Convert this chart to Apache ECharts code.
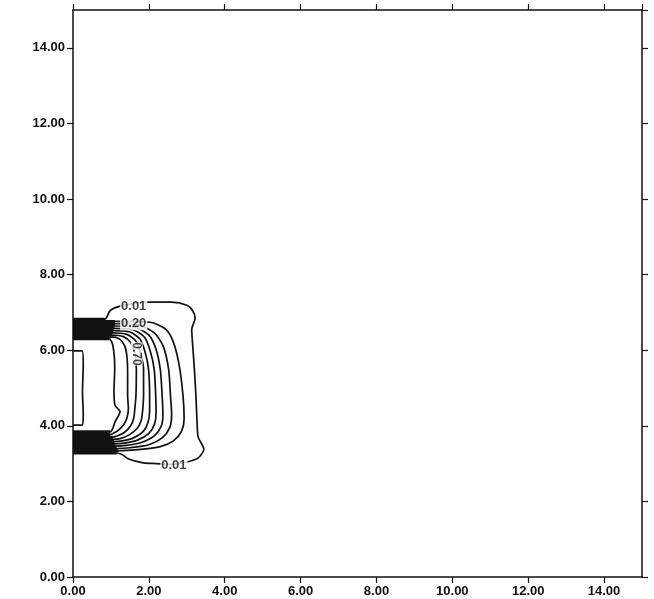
<!DOCTYPE html>
<html>
<head>
<meta charset="utf-8">
<title>Concentration contours</title>
<script src="https://cdn.jsdelivr.net/npm/echarts@6/dist/echarts.min.js"></script>
<style>
  html, body { margin: 0; padding: 0; background: #fff; }
  #chart { width: 654px; height: 599px; }
</style>
</head>
<body>
<div id="chart"></div>
<script>
// Axis ticks (both axes run 0..15, labelled every 2)
const xTicks = [0, 2, 4, 6, 8, 10, 12, 14];
const yTicks = [0, 2, 4, 6, 8, 10, 12, 14];

// Contour polylines [x, y], traced from the top edge of the inflow round to the bottom edge
const c001 = [[0,6.82],[0.84,6.82],[0.98,7.05],[1.3,7.18],[2.03,7.27],[2.6,7.27],[3.0,7.19],[3.15,7.05],[3.22,6.85],[3.13,6.55],[3.15,6.2],[3.2,5.5],[3.24,4.8],[3.27,4.1],[3.3,3.7],[3.45,3.38],[3.3,3.15],[3.03,3.05],[2.6,2.98],[2.2,3.0],[1.85,3.02],[1.45,3.13],[1.29,3.24],[1.15,3.28],[0,3.28]];
const c01 = [[0,6.76],[1.1,6.76],[2.03,6.74],[2.45,6.55],[2.65,6.2],[2.8,5.6],[2.9,4.8],[2.93,4.2],[2.86,3.85],[2.65,3.6],[2.3,3.45],[1.7,3.37],[1.2,3.34],[0,3.34]];
const c02 = [[0,6.70],[1.1,6.70],[1.75,6.66],[2.15,6.45],[2.38,6.1],[2.52,5.5],[2.57,4.8],[2.6,4.3],[2.55,3.95],[2.35,3.68],[2.0,3.5],[1.5,3.42],[1.15,3.40],[0,3.40]];
const c03 = [[0,6.64],[1.1,6.64],[1.65,6.6],[2.0,6.4],[2.18,6.05],[2.3,5.5],[2.35,4.8],[2.37,4.3],[2.33,4.0],[2.15,3.74],[1.8,3.56],[1.4,3.48],[1.12,3.46],[0,3.46]];
const c04 = [[0,6.58],[1.08,6.58],[1.58,6.54],[1.88,6.35],[2.03,6.0],[2.14,5.5],[2.18,4.8],[2.19,4.35],[2.15,4.05],[2.0,3.8],[1.7,3.62],[1.35,3.54],[1.1,3.52],[0,3.52]];
const c05 = [[0,6.52],[1.06,6.52],[1.5,6.48],[1.76,6.3],[1.9,5.95],[1.99,5.5],[2.02,4.8],[2.02,4.4],[1.98,4.1],[1.86,3.86],[1.6,3.68],[1.3,3.6],[1.08,3.58],[0,3.58]];
const c06 = [[0,6.46],[1.04,6.46],[1.42,6.42],[1.65,6.25],[1.78,5.92],[1.86,5.5],[1.86,4.8],[1.84,4.45],[1.8,4.15],[1.7,3.94],[1.48,3.76],[1.24,3.66],[1.06,3.64],[0,3.64]];
const c07 = [[0,6.40],[1.02,6.40],[1.33,6.36],[1.52,6.2],[1.63,5.9],[1.67,5.5],[1.66,4.8],[1.63,4.45],[1.6,4.2],[1.52,4.0],[1.36,3.83],[1.16,3.73],[1.04,3.70],[0,3.70]];
const c08 = [[0,6.35],[1.0,6.35],[1.22,6.3],[1.36,6.12],[1.42,5.85],[1.44,5.4],[1.44,4.8],[1.46,4.45],[1.42,4.2],[1.33,4.02],[1.18,3.87],[1.04,3.79],[0.98,3.77],[0,3.77]];
const c09 = [[0,6.30],[0.95,6.30],[1.05,6.13],[1.1,5.52],[1.08,4.91],[1.11,4.54],[1.24,4.38],[1.11,4.11],[0.98,3.84],[0,3.84]];
const cInner = [[0,5.98],[0.24,5.98],[0.27,5.6],[0.25,4.9],[0.27,4.3],[0.25,4.02],[0,4.02]];

const contours = [c001, c01, c02, c03, c04, c05, c06, c07, c08, c09, cInner];
// the ten levels whose legs crowd together along the inflow edges
const bandContours = [c001, c01, c02, c03, c04, c05, c06, c07, c08, c09];

// Contour level labels: [x, y, text]
const levelLabels = [[1.6, 7.16, '0.01'], [2.66, 2.95, '0.01'], [1.6, 6.7, '0.20']];
const rotatedLabels = [[1.68, 5.9, '0.70']];

const FONT = '"Liberation Sans", Arial, sans-serif';
const INK = '#111';

const tickLabel = {
  fontFamily: FONT, fontSize: 13, fontWeight: 'bold', color: INK,
  formatter: v => v.toFixed(2), showMaxLabel: false, margin: 8
};

const chart = echarts.init(document.getElementById('chart'), null, { renderer: 'canvas' });

const lineSeries = (pts, width) => ({
  type: 'line',
  data: pts,
  xAxisIndex: 0, yAxisIndex: 0,
  showSymbol: false, symbol: 'none',
  smooth: 0.25,
  lineStyle: { color: INK, width },
  silent: true, animation: false, z: 2
});

const series = contours.map(pts => lineSeries(pts, 1.7));
// straight legs along the inflow edges, drawn heavier so the packed lines read as a solid band
bandContours.forEach(pts => {
  series.push(lineSeries(pts.slice(0, 2), 3));
  series.push(lineSeries(pts.slice(-2), 3));
});

const labelStyle = {
  show: true, position: 'inside',
  formatter: p => p.data[2],
  fontFamily: FONT, fontSize: 13, fontWeight: 'bold', color: INK,
  backgroundColor: '#fff', padding: [0, 1, 0, 1]
};

series.push({
  type: 'scatter', data: levelLabels, symbolSize: 1,
  itemStyle: { color: 'rgba(0,0,0,0)' },
  label: labelStyle, silent: true, animation: false, z: 5
});
series.push({
  type: 'scatter', data: rotatedLabels, symbolSize: 1,
  itemStyle: { color: 'rgba(0,0,0,0)' },
  label: Object.assign({}, labelStyle, { rotate: -90, fontSize: 12, padding: [0, 0, 0, 0] }),
  silent: true, animation: false, z: 5
});

const axisLine = { show: true, onZero: false, lineStyle: { color: INK, width: 1.5 } };
const axisTick = { show: true, inside: false, length: 6, lineStyle: { color: INK, width: 1.2 } };

chart.setOption({
  backgroundColor: '#fff',
  animation: false,
  grid: { left: 73, right: 12, top: 10, bottom: 22, containLabel: false },
  xAxis: [
    { type: 'value', min: xTicks[0], max: 15, interval: xTicks[1] - xTicks[0], position: 'bottom',
      axisLine, axisTick, splitLine: { show: false }, axisLabel: tickLabel },
    { type: 'value', min: xTicks[0], max: 15, interval: xTicks[1] - xTicks[0], position: 'top',
      axisLine, axisTick, splitLine: { show: false }, axisLabel: { show: false } }
  ],
  yAxis: [
    { type: 'value', min: yTicks[0], max: 15, interval: yTicks[1] - yTicks[0], position: 'left',
      axisLine, axisTick, splitLine: { show: false }, axisLabel: tickLabel },
    { type: 'value', min: yTicks[0], max: 15, interval: yTicks[1] - yTicks[0], position: 'right',
      axisLine, axisTick, splitLine: { show: false }, axisLabel: { show: false } }
  ],
  series
});
</script>
</body>
</html>
